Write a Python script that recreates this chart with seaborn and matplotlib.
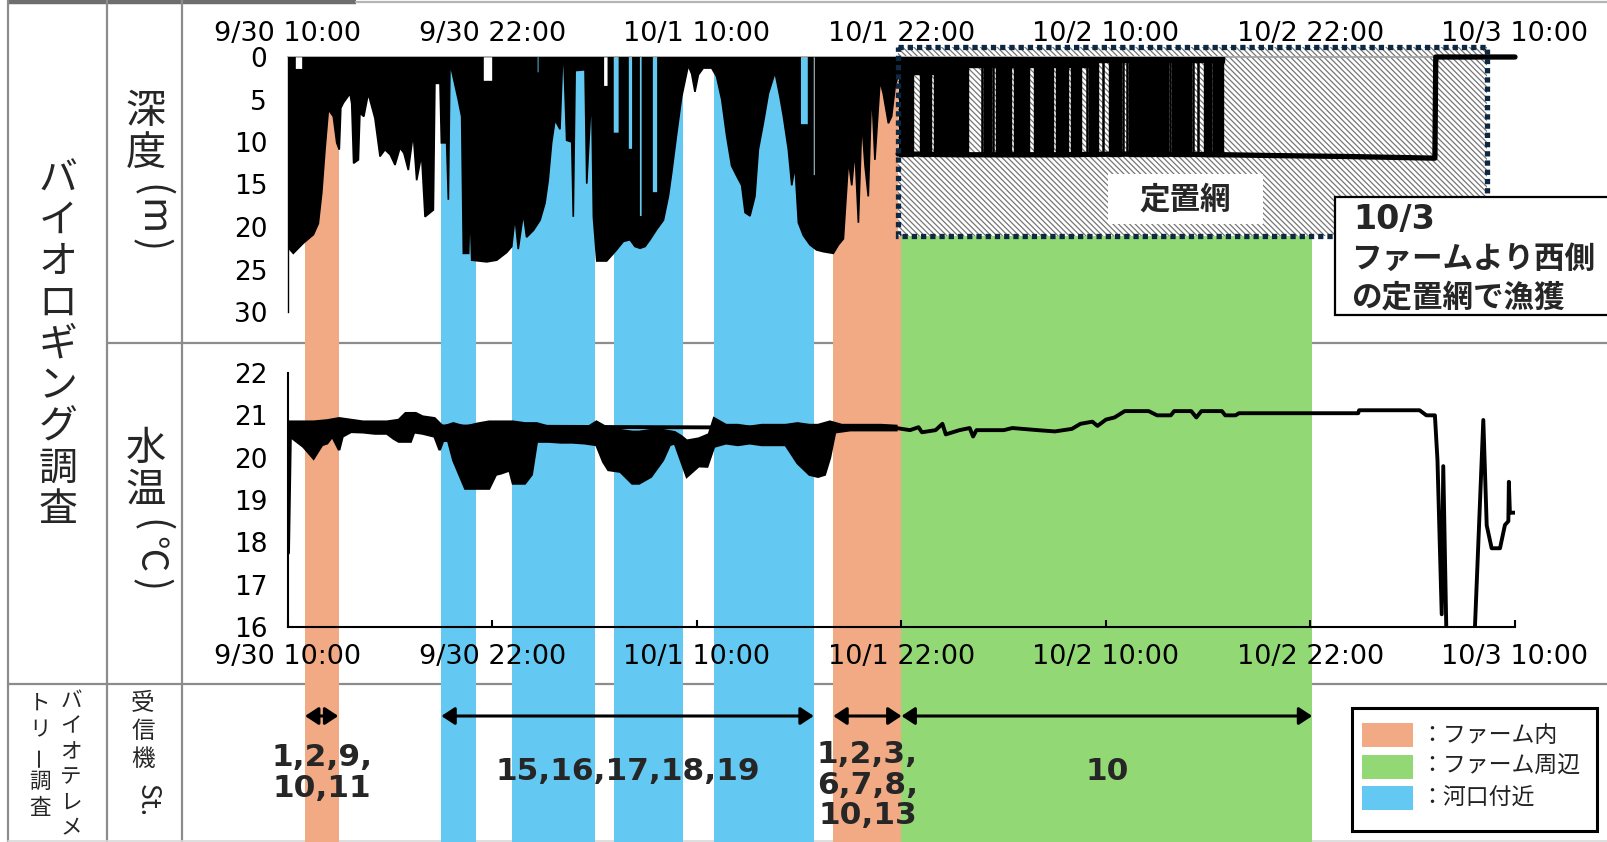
import numpy as np
import matplotlib
matplotlib.use("Agg")
import matplotlib.pyplot as plt
import seaborn as sns
from matplotlib.patches import Rectangle

sns.set_theme(style="white")
plt.rcParams["font.family"] = ["DejaVu Sans", "Noto Sans CJK JP"]
plt.rcParams["hatch.linewidth"] = 0.9
JP = ["Noto Sans CJK JP", "DejaVu Sans"]

# ---------------------------------------------------------------- data
# time axis: hours elapsed since 9/30 10:00
time_ticks = [0, 12, 24, 36, 48, 60, 72]
time_labels = ["9/30 10:00", "9/30 22:00", "10/1 10:00", "10/1 22:00",
               "10/2 10:00", "10/2 22:00", "10/3 10:00"]
depth_ticks = [0, 5, 10, 15, 20, 25, 30]
temp_ticks = [16, 17, 18, 19, 20, 21, 22]

# receiver detection periods (hours) and their zone
zone_names = ["：ファーム内", "：ファーム周辺", "：河口付近"]
zone_colors = ["#F1AA84", "#92D976", "#63C9F2"]
period_start = [1.0, 9.0, 13.15, 19.15, 25.0, 32.0, 36.0]
period_end = [3.0, 11.05, 18.0, 23.15, 30.85, 36.0, 60.1]
period_zone = [0, 2, 2, 2, 2, 0, 1]

# receiver station groups
station_labels = ["1,2,9,\n10,11", "15,16,17,18,19", "1,2,3,\n6,7,8,\n10,13", "10"]
station_start = [1.0, 9.0, 32.0, 36.0]
station_end = [2.95, 30.85, 36.0, 60.1]

# maximum dive depth envelope (m), free swimming period
dive_t = [0.05, 0.31, 0.9, 1.49, 1.78, 1.98, 2.17, 2.37, 2.66, 2.86, 3.01, 3.1, 3.25,
          3.64, 3.74, 3.85, 4.13, 4.22, 4.45, 4.71, 5.1, 5.4, 5.69, 6.0, 6.28, 6.57,
          6.8, 7.06, 7.35, 7.55, 7.84, 8.04, 8.53, 8.62, 8.92, 9.0, 9.31, 9.41, 9.5,
          9.6, 9.99, 10.19, 10.29, 10.6, 10.68, 10.78, 11.66, 12.25, 12.83, 13.13,
          13.32, 13.51, 13.81, 14.0, 14.4, 14.79, 15.08, 15.27, 15.47, 15.67, 15.96,
          16.1, 16.2, 16.35, 16.65, 16.74, 16.85, 17.43, 17.53, 17.82, 17.92, 18.12,
          18.7, 19.19, 19.68, 20.07, 20.36, 20.66, 20.95, 21.24, 21.63, 22.03, 22.32,
          22.51, 22.81, 23.1, 23.3, 23.49, 23.69, 23.88, 24.08, 24.37, 24.86, 25.15,
          25.45, 25.74, 26.03, 26.33, 26.62, 26.82, 27.11, 27.4, 27.6, 27.89, 28.19,
          28.58, 28.87, 29.07, 29.36, 29.56, 29.75, 29.95, 30.24, 30.63, 31.02, 31.41,
          32.0, 32.3, 32.59, 32.89, 33.08, 33.27, 33.47, 33.67, 33.86, 34.05, 34.25,
          34.44, 34.74, 34.93, 35.23, 35.42, 35.62, 35.85]
dive_max = [22.5, 23.1, 21.9, 20.9, 19.6, 16.0, 10.9, 6.2, 7.0, 10.1, 10.9, 6.0, 5.4,
            4.3, 5.5, 12.5, 12.1, 6.6, 7.0, 4.3, 7.2, 11.7, 10.9, 11.5, 12.7, 10.7,
            11.3, 13.3, 9.0, 14.5, 11.5, 18.8, 18.0, 3.1, 3.1, 10.1, 10.1, 16.8, 1.5,
            1.5, 5.0, 7.0, 23.1, 23.1, 17.4, 23.9, 24.1, 23.9, 23.0, 22.3,
            18.8, 22.6, 18.4, 21.2, 20.4, 19.2, 17.2, 14.5, 10.1, 7.4, 8.5,
            0.9, 0.9, 9.8, 10.0, 18.8, 1.6, 1.5, 14.9, 3.9, 18.8, 24.0,
            24.0, 22.9, 21.7, 21.5, 22.3, 22.5, 22.3, 21.5, 20.3, 19.2, 16.4,
            13.7, 9.0, 4.7, 2.8, 1.0, 2.0, 4.1, 2.1, 1.3, 1.3, 2.3,
            5.0, 9.3, 12.8, 14.0, 15.1, 18.3, 18.7, 16.4, 10.9, 7.8, 4.3,
            1.8, 4.7, 7.0, 10.9, 15.1, 12.8, 19.5, 21.0, 22.1, 22.7, 22.9,
            23.1, 22.1, 21.4, 12.1, 15.1, 10.9, 19.5, 7.5, 12.8, 16.4, 3.6,
            12.1, 2.8, 4.3, 7.8, 7.0, 3.6, 1.7]
# stretches with no surfacing: start, end (hours) and shallowest depth reached (m)
deep_start = [0.41, 11.44, 14.6, 18.5, 19.07, 19.95, 20.6, 21.36, 30.05, 30.8]
deep_end = [0.88, 12.03, 14.75, 18.8, 19.45, 20.24, 20.8, 21.71, 30.55, 30.95]
deep_min = [1.5, 2.9, 1.9, 3.5, 9.0, 10.9, 18.8, 16.0, 8.0, 14.0]

# inside the set net: surfacing bouts (hours) and near-surface band
net_bout_start = [35.85, 36.15, 37.10, 37.90, 38.88, 39.37, 40.84, 41.52, 42.01, 42.60,
                  43.77, 45.04, 45.92, 47.00, 48.17, 49.35, 50.33, 50.91, 51.89, 53.75, 54.34]
net_bout_end = [36.17, 36.66, 37.73, 38.87, 39.39, 39.88, 41.25, 41.94, 42.43, 43.50,
                44.87, 45.75, 46.53, 47.51, 48.88, 50.25, 50.84, 51.62, 52.99, 54.16, 54.89]
net_spikes = [40.70, 41.39, 43.93, 46.28, 46.86, 47.84, 49.02, 49.21, 50.29, 50.87,
              51.75, 53.12, 53.42, 54.30]
net_surface_t = [35.8, 39.5, 39.5, 47.0, 47.0, 54.9]
net_surface_d = [2.0, 2.0, 1.2, 1.2, 0.6, 0.6]
net_floor_t = [35.8, 40.0, 45.0, 50.0, 54.9, 58.0, 62.0, 67.3, 67.35, 72.0]
net_floor_d = [11.4, 11.5, 11.5, 11.4, 11.5, 11.6, 11.7, 11.9, 0.0, 0.0]

# water temperature (deg C): range of the rapid fluctuations while diving
temp_hi_t = [0.12, 1.5, 2.3, 3.0, 3.7, 4.4, 5.1, 5.8, 6.5, 6.9, 7.5, 7.9, 8.6, 8.9, 9.1,
             9.7, 10.4, 11.1, 11.8, 12.5, 13.2, 13.9, 14.6, 15.3, 16.0, 16.7, 17.4,
             18.1, 18.8, 19.5, 20.2, 20.6, 21.3, 22.0, 22.7, 23.1, 23.4, 24.1, 24.7,
             25.0, 25.7, 26.4, 27.1, 27.8, 28.5, 29.2, 29.9, 30.6, 31.1, 31.8, 32.5,
             33.2, 33.9, 34.8, 35.7]
temp_hi = [20.85, 20.85, 20.88, 20.93, 20.89, 20.85, 20.85, 20.85, 20.89, 21.05, 21.05,
           20.97, 20.93, 20.81, 20.73, 20.81, 20.73, 20.8, 20.85, 20.85, 20.85, 20.81,
           20.81, 20.73, 20.7, 20.69, 20.67, 20.85, 20.69, 20.65, 20.61, 20.61, 20.65,
           20.65, 20.6, 20.5, 20.4, 20.45, 20.55, 20.93, 20.77, 20.77, 20.73, 20.77,
           20.77, 20.77, 20.81, 20.77, 20.77, 20.85, 20.77, 20.77, 20.77, 20.77, 20.75]
temp_lo_t = [0.12, 0.9, 1.5, 2.0, 2.3, 2.6, 3.0, 3.2, 3.7, 4.4, 5.1, 5.8, 6.2, 6.5, 7.2,
             7.4, 7.9, 8.6, 8.9, 9.1, 9.4, 9.7, 10.4, 11.1, 11.8, 12.2, 12.5, 13.0,
             13.2, 13.9, 14.3, 14.6, 15.3, 16.0, 16.7, 17.4, 18.1, 18.5, 18.8, 19.5,
             20.2, 20.6, 21.3, 22.0, 22.4, 22.7, 23.4, 24.1, 24.6, 25.0, 25.7, 26.4,
             27.1, 27.8, 28.5, 29.2, 29.9, 30.6, 31.1, 31.5, 31.8, 32.1, 33.0, 34.0, 35.7]
temp_lo = [20.5, 20.26, 19.98, 20.3, 20.34, 20.5, 20.18, 20.5, 20.61, 20.6, 20.57,
           20.57, 20.45, 20.38, 20.38, 20.6, 20.57, 20.5, 20.18, 20.4, 20.4, 19.94,
           19.27, 19.27, 19.27, 19.6, 19.63, 19.7, 19.39, 19.39, 19.6, 20.38, 20.38,
           20.36, 20.36, 20.34, 20.3, 19.9, 19.71, 19.67, 19.39, 19.39, 19.55, 19.94,
           20.3, 20.34, 19.55, 19.8, 19.79, 20.26, 20.34, 20.3, 20.34, 20.3, 20.3,
           20.3, 19.87, 19.6, 19.55, 19.6, 20.0, 20.6, 20.65, 20.65, 20.65]

# water temperature (deg C): logger trace
temp_t = [0.0, 0.12, 35.7, 36.5, 37.0, 37.2, 38.0, 38.4, 38.6, 39.4, 40.0, 40.2, 40.4,
          42.0, 42.5, 44.0, 45.0, 46.0, 46.5, 47.2, 47.5, 48.0, 48.5, 49.1, 50.5, 51.0,
          51.8, 52.0, 53.0, 53.3, 53.6, 54.8, 55.0, 55.6, 55.8, 59.3, 62.8, 62.85, 66.4,
          66.8, 67.3, 67.45, 67.7, 67.79, 67.99, 69.6, 70.14, 70.34, 70.63, 71.12, 71.41,
          71.61, 71.64, 71.7, 72.0]
temp_v = [17.75, 20.75, 20.7, 20.65, 20.72, 20.6, 20.65, 20.8, 20.55, 20.65, 20.7, 20.5,
          20.65, 20.65, 20.7, 20.65, 20.62, 20.68, 20.8, 20.85, 20.75, 20.9, 20.95, 21.1,
          21.1, 21.0, 21.0, 21.1, 21.1, 20.95, 21.1, 21.1, 21.0, 21.0, 21.05, 21.05, 21.05,
          21.12, 21.12, 21.0, 21.0, 19.95, 16.3, 19.8, 15.5, 15.5, 20.89, 18.4, 17.86,
          17.86, 18.41, 18.5, 19.43, 18.7, 18.7]

# ---------------------------------------------------------------- layout
W, H = 1608, 842
fig = plt.figure(figsize=(W / 100, H / 100), dpi=100)
fig.patch.set_facecolor("white")


def frac(x0, y0, x1, y1):
    return [x0 / W, 1 - y1 / H, (x1 - x0) / W, (y1 - y0) / H]


# table frame and row / column headings
axo = fig.add_axes([0, 0, 1, 1], zorder=0)
axo.set_xlim(0, W)
axo.set_ylim(H, 0)
axo.axis("off")
grid = "#8c8c8c"
axo.plot([8, 356], [2, 2], color="#6e6e6e", lw=3.2, solid_capstyle="butt")
axo.plot([356, W], [2, 2], color="#b4b4b4", lw=1.6)
for gx in (8, 107, 182):
    axo.plot([gx, gx], [0, H], color=grid, lw=1.6)
axo.plot([107, W], [343, 343], color=grid, lw=1.6)
axo.plot([8, W], [684, 684], color=grid, lw=1.6)
axo.plot([8, W], [841, 841], color="#d8d8d8", lw=1.2)


def stack(x, y0, pitch, text, size, rotate_chars="ー"):
    for i, ch in enumerate(text):
        axo.text(x, y0 + i * pitch, ch, ha="center", va="center", fontsize=size,
                 family=JP, rotation=90 if ch in rotate_chars else 0)


def sideways(x, y, text, size):
    axo.text(x, y, text, rotation=-90, ha="center", va="center", fontsize=size,
             family=JP)


stack(58, 180, 41.2, "バイオロギング調査", 28)
stack(146, 111, 42, "深度", 29)
sideways(150, 191, "(", 28)
sideways(151, 217, "m", 28)
sideways(150, 245, ")", 28)
stack(146, 448, 42, "水温", 29)
sideways(150, 526, "(", 28)
sideways(149, 554, "℃", 26)
sideways(150, 585, ")", 28)
stack(71, 701, 25.5, "バイオテレメ", 15.5)
stack(40, 704, 26, "トリー調査", 15.5)
stack(143, 704, 27.5, "受信機", 17)
sideways(147, 801, "St.", 19)

# detection periods, arrows and station numbers
axb = fig.add_axes(frac(288, 57, 1515, 842), zorder=1)
axb.set_xlim(0, 72)
axb.set_ylim(842, 57)
axb.axis("off")
for s, e, z in zip(period_start, period_end, period_zone):
    axb.fill_between([s, e], 57, 842, color=zone_colors[z], lw=0, zorder=1)
label_y = [773, 771, 785, 771]
for s, e, lab, ly in zip(station_start, station_end, station_labels, label_y):
    axb.annotate("", xy=(e, 716), xytext=(s, 716),
                 arrowprops=dict(arrowstyle="<|-|>,head_length=0.5,head_width=0.33",
                                 color="black", lw=2.2, mutation_scale=16,
                                 shrinkA=0, shrinkB=0), zorder=3)
    axb.text((s + e) / 2, ly, lab, ha="center", va="center", fontsize=22.5,
             fontweight="bold", linespacing=1.05, zorder=3)

# ---------------------------------------------------------------- depth
axd = fig.add_axes(frac(288, 57, 1515, 312), zorder=3)
axd.set_facecolor("none")
axd.set_xlim(0, 72)
axd.set_ylim(30, 0)

# set-net area
axd.add_patch(Rectangle((35.8, -1.2), 70.36 - 35.8, 22.26, facecolor="white",
                        edgecolor="#767676", hatch="\\" * 6, lw=0, zorder=1, clip_on=False))
axd.add_patch(Rectangle((35.8, -1.2), 70.36 - 35.8, 22.26, fill=False,
                        edgecolor="#0E2841", lw=3.8, linestyle=(0, (1.0, 0.75)),
                        zorder=6, clip_on=False))

# free swimming: black from the surface (or the shallowest point) down to the deepest
top_t, top_d = [0.05], [0.0]
for s, e, d in zip(deep_start, deep_end, deep_min):
    top_t += [s, s, e, e]
    top_d += [0.0, d, d, 0.0]
top_t.append(dive_t[-1])
top_d.append(0.0)
axd.fill(top_t + dive_t[::-1], top_d + dive_max[::-1], facecolor="black",
         edgecolor="black", lw=1.2, zorder=3)

axd.fill_between(net_surface_t, 0, net_surface_d, facecolor="black", edgecolor="black",
                 lw=1.0, zorder=3)
axd.bar([(a + b) / 2 for a, b in zip(net_bout_start, net_bout_end)], 11.6,
        width=[b - a for a, b in zip(net_bout_start, net_bout_end)], bottom=0,
        color="black", edgecolor="black", lw=1.0, zorder=3)
axd.vlines(net_spikes, 0, 11.6, color="black", lw=1.8, zorder=3)
sns.lineplot(x=net_floor_t, y=net_floor_d, ax=axd, color="black", lw=3.8,
             estimator=None, sort=False, zorder=4)
axd.lines[-1].set_clip_on(False)

axd.xaxis.tick_top()
axd.set_xticks(time_ticks, time_labels)
axd.set_yticks(depth_ticks)
axd.tick_params(axis="x", length=0, pad=7, labelsize=19.5, colors="black")
axd.tick_params(axis="y", length=0, pad=15, labelsize=19, colors="black")
for side in ("right", "bottom"):
    axd.spines[side].set_visible(False)
axd.spines["top"].set_color("#a0a0a0")
axd.spines["top"].set_linewidth(1.2)
axd.spines["left"].set_color("black")
axd.spines["left"].set_linewidth(1.0)
axd.set_xlabel("")
axd.set_ylabel("")

# ---------------------------------------------------------------- temperature
axt = fig.add_axes(frac(288, 373, 1515, 627), zorder=3)
axt.set_facecolor("none")
axt.set_xlim(0, 72)
axt.set_ylim(16, 22)
axt.fill(np.r_[temp_hi_t, temp_lo_t[::-1]], np.r_[temp_hi, temp_lo[::-1]],
         facecolor="black", edgecolor="black", lw=1.8, zorder=3)
sns.lineplot(x=temp_t, y=temp_v, ax=axt, color="black", lw=2.8,
             estimator=None, sort=False, zorder=3)
axt.set_xticks(time_ticks, time_labels)
axt.set_yticks(temp_ticks)
axt.tick_params(axis="x", direction="in", length=5, width=1.5, pad=12, labelsize=19.5,
                colors="black", bottom=True)
axt.tick_params(axis="y", length=0, pad=15, labelsize=19, colors="black")
for side in ("right", "top"):
    axt.spines[side].set_visible(False)
for side in ("left", "bottom"):
    axt.spines[side].set_color("black")
    axt.spines[side].set_linewidth(1.5)
axt.set_xlabel("")
axt.set_ylabel("")

# ---------------------------------------------------------------- notes and legend
axn = fig.add_axes([0, 0, 1, 1], zorder=8)
axn.set_xlim(0, W)
axn.set_ylim(H, 0)
axn.axis("off")
axn.add_patch(Rectangle((1108, 174), 155, 50, facecolor="white", lw=0))
axn.text(1185, 199, "定置網", ha="center", va="center", fontsize=22, fontweight="bold",
         family=JP)
axn.add_patch(Rectangle((1335, 197), 290, 118, facecolor="white", edgecolor="black",
                        lw=1.6, clip_on=False))
axn.text(1353, 219, "10/3", ha="left", va="center", fontsize=24, fontweight="bold")
axn.text(1351, 259, "ファームより西側", ha="left", va="center", fontsize=22,
         fontweight="bold", family=JP)
axn.text(1351, 297, "の定置網で漁獲", ha="left", va="center", fontsize=22,
         fontweight="bold", family=JP)

axn.add_patch(Rectangle((1352, 708), 245, 123, facecolor="white", edgecolor="black", lw=2.2))
for i, (name, col) in enumerate(zip(zone_names, zone_colors)):
    yy = 735 + i * 31.5
    axn.add_patch(Rectangle((1362, yy - 12), 51, 24, facecolor=col, lw=0))
    axn.text(1420, yy, name, ha="left", va="center", fontsize=16.5, color="#222222",
             family=JP)

fig.savefig("out.png", dpi=100, facecolor="white")
